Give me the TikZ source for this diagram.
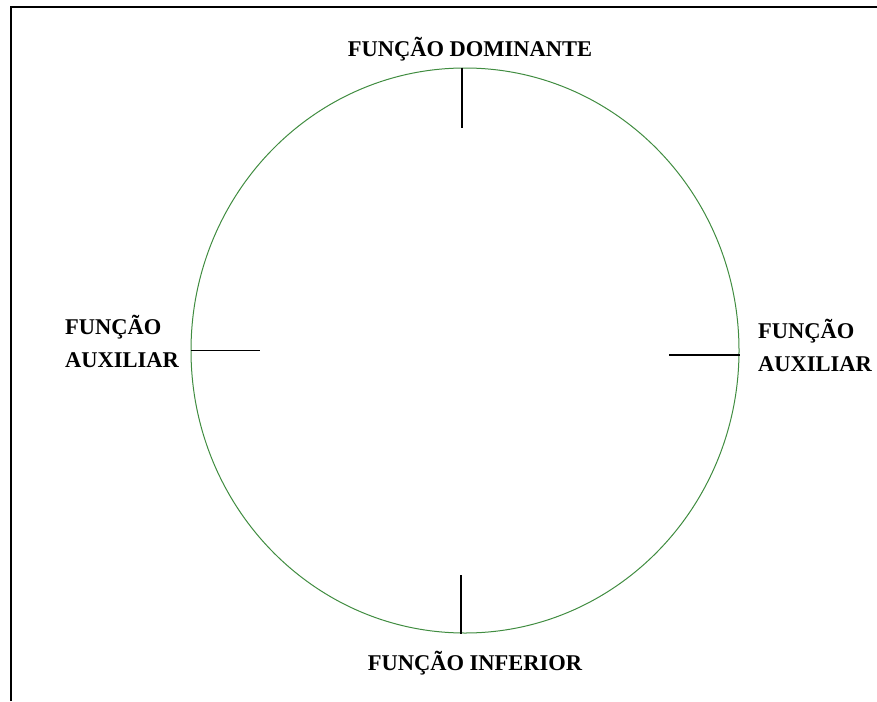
\documentclass[tikz,border=0pt]{standalone}
\usepackage{fontspec}
\setmainfont{Liberation Serif}
\usetikzlibrary{shapes.geometric}

\tikzset{
  label/.style={font=\bfseries\fontsize{22.5}{33}\selectfont, inner sep=0pt},
  tick/.style={black, line width=1.1pt},
}

\begin{document}
\begin{tikzpicture}[x={(1pt,0pt)}, y={(0pt,-1pt)}]
  \useasboundingbox (0,0) rectangle (877,701);

  % Frame
  \draw[line width=2.6pt] (11,701) -- (11,7) -- (877,7);

  % Ring
  \node[draw=black!60!green!75!white, line width=1pt, ellipse, inner sep=0pt,
        minimum width=548pt, minimum height=565pt] (ring) at (465,350.5) {};

  % Tick ends
  \coordinate (topEnd) at (462,128);
  \coordinate (botEnd) at (461,575);
  \coordinate (leftEnd) at (260,350.5);
  \coordinate (rightEnd) at (669,355);

  % Labels
  \node[label] (Dominante) at (470,49) {FUNÇÃO DOMINANTE};
  \node[label] (Inferior) at (475,663) {FUNÇÃO INFERIOR};
  \node[label, align=left, anchor=west] (AuxLeft) at (65,341) {FUNÇÃO\\AUXILIAR};
  \node[label, align=left, anchor=west] (AuxRight) at (758,345) {FUNÇÃO\\AUXILIAR};

  % Ticks
  \draw[tick] (ring.north -| topEnd) -- (topEnd);
  \draw[tick] (ring.south -| botEnd) -- (botEnd);
  \draw[tick] (ring.west) -- (leftEnd);
  \draw[tick] (ring.east |- rightEnd) -- (rightEnd);
\end{tikzpicture}
\end{document}
